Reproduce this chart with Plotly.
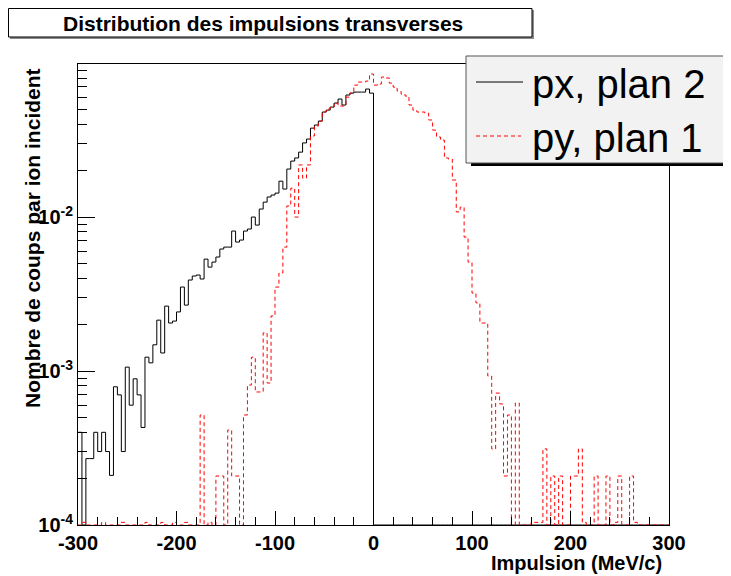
import plotly.graph_objects as go

# ---------------- data (histograms, 150 bins of 4 MeV/c from -300 to 300) -------------
bin_low, bin_high, n_bins = -300.0, 300.0, 150

# px, plan 2 : only bins from -300 to 0 are filled (bins above 0 are empty)
px_plan2 = [
    4.0e-4, 0.0, 2.7e-4, 2.7e-4, 4.0e-4, 3.0e-4, 4.0e-4, 3.0e-4, 2.1e-4, 7.9e-4,
    7.0e-4, 3.0e-4, 1.06e-3, 6.0e-4, 8.9e-4, 7.0e-4, 4.3e-4, 1.23e-3, 1.13e-3, 1.48e-3,
    2.14e-3, 1.31e-3, 2.64e-3, 2.05e-3, 2.11e-3, 2.42e-3, 3.51e-3, 2.68e-3, 3.90e-3, 4.14e-3,
    4.20e-3, 3.96e-3, 5.33e-3, 4.73e-3, 5.10e-3, 5.50e-3, 6.20e-3, 6.38e-3, 6.38e-3, 8.11e-3,
    6.88e-3, 7.09e-3, 8.11e-3, 8.36e-3, 1.00e-2, 8.87e-3, 1.127e-2, 1.25e-2, 1.35e-2, 1.39e-2,
    1.43e-2, 1.71e-2, 1.52e-2, 2.05e-2, 2.31e-2, 2.42e-2, 2.64e-2, 3.03e-2, 3.21e-2, 3.78e-2,
    3.96e-2, 4.20e-2, 4.81e-2, 4.95e-2, 5.18e-2, 5.50e-2, 5.84e-2, 5.34e-2, 6.20e-2, 6.38e-2,
    6.48e-2, 6.48e-2, 6.48e-2, 6.78e-2, 6.38e-2,
] + [0.0] * 75

py_plan1 = [
    0.0, 1.04e-4, 0.0, 0.0, 0.0, 0.0, 1.04e-4, 0.0, 0.0, 0.0,
    0.0, 1.04e-4, 0.0, 0.0, 0.0, 0.0, 0.0, 1.04e-4, 0.0, 0.0,
    0.0, 1.04e-4, 0.0, 0.0, 1.04e-4, 0.0, 0.0, 1.04e-4, 0.0, 0.0,
    0.0, 5.18e-4, 0.0, 1.04e-4, 0.0, 2.08e-4, 2.08e-4, 0.0, 4.14e-4, 2.08e-4,
    2.08e-4, 0.0, 5.18e-4, 8.11e-4, 1.23e-3, 7.31e-4, 7.31e-4, 1.77e-3, 8.36e-4, 2.28e-3,
    3.51e-3, 4.33e-3, 6.38e-3, 1.18e-2, 1.54e-2, 1.00e-2, 2.18e-2, 1.79e-2, 2.18e-2, 3.36e-2,
    3.90e-2, 4.20e-2, 4.81e-2, 5.03e-2, 5.18e-2, 5.50e-2, 5.26e-2, 5.26e-2, 6.01e-2, 6.38e-2,
    7.19e-2, 7.53e-2, 7.53e-2, 7.64e-2, 8.49e-2, 7.19e-2, 7.31e-2, 8.11e-2, 8.00e-2, 7.41e-2,
    6.98e-2, 6.58e-2, 6.29e-2, 6.11e-2, 5.34e-2, 4.95e-2, 4.81e-2, 4.81e-2, 4.73e-2, 4.27e-2,
    3.67e-2, 3.31e-2, 3.16e-2, 2.42e-2, 2.38e-2, 1.74e-2, 1.08e-2, 1.16e-2, 7.41e-3, 5.10e-3,
    3.21e-3, 2.77e-3, 2.05e-3, 2.05e-3, 9.28e-4, 3.12e-4, 7.19e-4, 6.11e-4, 2.08e-4, 5.18e-4,
    0.0, 6.20e-4, 0.0, 0.0, 0.0, 1.04e-4, 1.04e-4, 1.04e-4, 3.12e-4, 0.0,
    2.08e-4, 0.0, 2.08e-4, 0.0, 0.0, 2.08e-4, 2.08e-4, 3.12e-4, 1.04e-4, 0.0,
    0.0, 2.08e-4, 0.0, 0.0, 2.08e-4, 0.0, 1.04e-4, 2.08e-4, 0.0, 0.0,
    2.08e-4, 1.04e-4, 0.0, 0.0, 0.0, 0.0, 0.0, 0.0, 0.0, 0.0,
]

series_names = ["px, plan 2", "py, plan 1"]
x_tick_vals = [-300, -200, -100, 0, 100, 200, 300]
x_tick_text = ["-300", "-200", "-100", "0", "100", "200", "300"]
y_tick_vals = [1e-4, 1e-3, 1e-2]
y_tick_text = ["10<sup>-4</sup>", "10<sup>-3</sup>", "10<sup>-2</sup>"]
title_text = "Distribution des impulsions transverses"
x_title = "Impulsion (MeV/c)"
y_title = "Nombre de coups par ion incident"

# ---------------- layout geometry (page pixels; the page body has an 8px margin) ------
OFF = 8
PAGE_W, PAGE_H = 731, 576
W, H = PAGE_W - OFF, PAGE_H - OFF
L, R, T, B = 78, 669, 64, 525          # frame in page pixels
y_min_log, y_max_log = -4.0, -1.006
y_floor = 10 ** y_min_log

def fx(p):
    return (p - L) / (R - L)

def fy(p):
    return (B - p) / (B - T)

width = (bin_high - bin_low) / n_bins
edges = [bin_low + i * width for i in range(n_bins + 1)]

def steps(vals):
    ys = [max(v, y_floor) for v in vals]
    return edges, ys + [ys[-1]]

FONT = "Liberation Sans, Arial, Helvetica, sans-serif"

fig = go.Figure()
xs, ys = steps(px_plan2)
fig.add_trace(go.Scatter(x=xs, y=ys, mode="lines", line_shape="hv", name=series_names[0],
                         line=dict(color="#000000", width=1)))
xs, ys = steps(py_plan1)
fig.add_trace(go.Scatter(x=xs, y=ys, mode="lines", line_shape="hv", name=series_names[1],
                         line=dict(color="#ff0000", width=1, dash="4px,3px")))

fig.update_layout(
    width=W, height=H,
    margin=dict(l=L - OFF, r=PAGE_W - R, t=T - OFF, b=PAGE_H - B, pad=0),
    paper_bgcolor="white", plot_bgcolor="white",
    showlegend=False,
    font=dict(family=FONT, color="black"),
)

fig.update_xaxes(
    range=[bin_low, bin_high], showgrid=False, zeroline=False,
    showline=True, linecolor="black", linewidth=1, mirror=True,
    ticks="inside", ticklen=14, tickwidth=1, tickcolor="black",
    tickmode="array", tickvals=x_tick_vals, ticktext=x_tick_text,
    tickfont=dict(family=FONT, size=20, weight="bold", color="black"),
    minor=dict(ticks="inside", ticklen=8, tickwidth=1, tickcolor="black",
               tickmode="linear", tick0=bin_low, dtick=20, showgrid=False),
)
minor_y = [k * 10 ** d for d in (-4, -3, -2) for k in range(2, 10)]
fig.update_yaxes(
    type="log", range=[y_min_log, y_max_log], showgrid=False, zeroline=False,
    showline=True, linecolor="black", linewidth=1, mirror=True,
    ticks="inside", ticklen=17, tickwidth=1, tickcolor="black",
    tickmode="array", tickvals=y_tick_vals, ticktext=y_tick_text,
    tickfont=dict(family=FONT, size=20, weight="bold", color="black"),
    minor=dict(ticks="inside", ticklen=9, tickwidth=1, tickcolor="black",
               tickmode="array", tickvals=minor_y, showgrid=False),
)

shapes = []
# title box with shadow
shapes.append(dict(type="rect", xref="paper", yref="paper", x0=fx(10), x1=fx(534), y0=fy(39), y1=fy(10),
                   line=dict(width=0), fillcolor="#8c8c8c", layer="above"))
shapes.append(dict(type="rect", xref="paper", yref="paper", x0=fx(8.5), x1=fx(532), y0=fy(37), y1=fy(8.5),
                   line=dict(width=1, color="black"), fillcolor="white", layer="above"))
# legend box with shadow
shapes.append(dict(type="rect", xref="paper", yref="paper", x0=fx(471), x1=fx(780), y0=fy(166), y1=fy(61),
                   line=dict(width=0), fillcolor="black", layer="above"))
shapes.append(dict(type="rect", xref="paper", yref="paper", x0=fx(466), x1=fx(775), y0=fy(163), y1=fy(56),
                   line=dict(width=1, color="#555555"), fillcolor="#f2f2f2", layer="above"))
# legend samples
shapes.append(dict(type="line", xref="paper", yref="paper", x0=fx(476), x1=fx(523), y0=fy(82), y1=fy(82),
                   line=dict(width=1, color="black"), layer="above"))
shapes.append(dict(type="line", xref="paper", yref="paper", x0=fx(476), x1=fx(521), y0=fy(136), y1=fy(136),
                   line=dict(width=1, color="#ff0000", dash="4px,3px"), layer="above"))
fig.update_layout(shapes=shapes)

ann = []
ann.append(dict(text=title_text, xref="paper", yref="paper", x=fx(263), y=fy(23), xanchor="center",
                yanchor="middle", showarrow=False,
                font=dict(family=FONT, size=21, weight="bold", color="black")))
ann.append(dict(text=series_names[0], xref="paper", yref="paper", x=fx(530), y=fy(84), xanchor="left",
                yanchor="middle", showarrow=False, font=dict(family=FONT, size=40, color="black")))
ann.append(dict(text=series_names[1], xref="paper", yref="paper", x=fx(530), y=fy(138), xanchor="left",
                yanchor="middle", showarrow=False, font=dict(family=FONT, size=40, color="black")))
ann.append(dict(text=x_title, xref="paper", yref="paper", x=fx(664), y=fy(563), xanchor="right",
                yanchor="middle", showarrow=False,
                font=dict(family=FONT, size=20, weight="bold", color="black")))
ann.append(dict(text=y_title, xref="paper", yref="paper", x=fx(33), y=fy(238), xanchor="center",
                yanchor="middle", textangle=-90, showarrow=False,
                font=dict(family=FONT, size=21, weight="bold", color="black")))
fig.update_layout(annotations=ann)

fig.write_html("out.html", config={"displayModeBar": False})
